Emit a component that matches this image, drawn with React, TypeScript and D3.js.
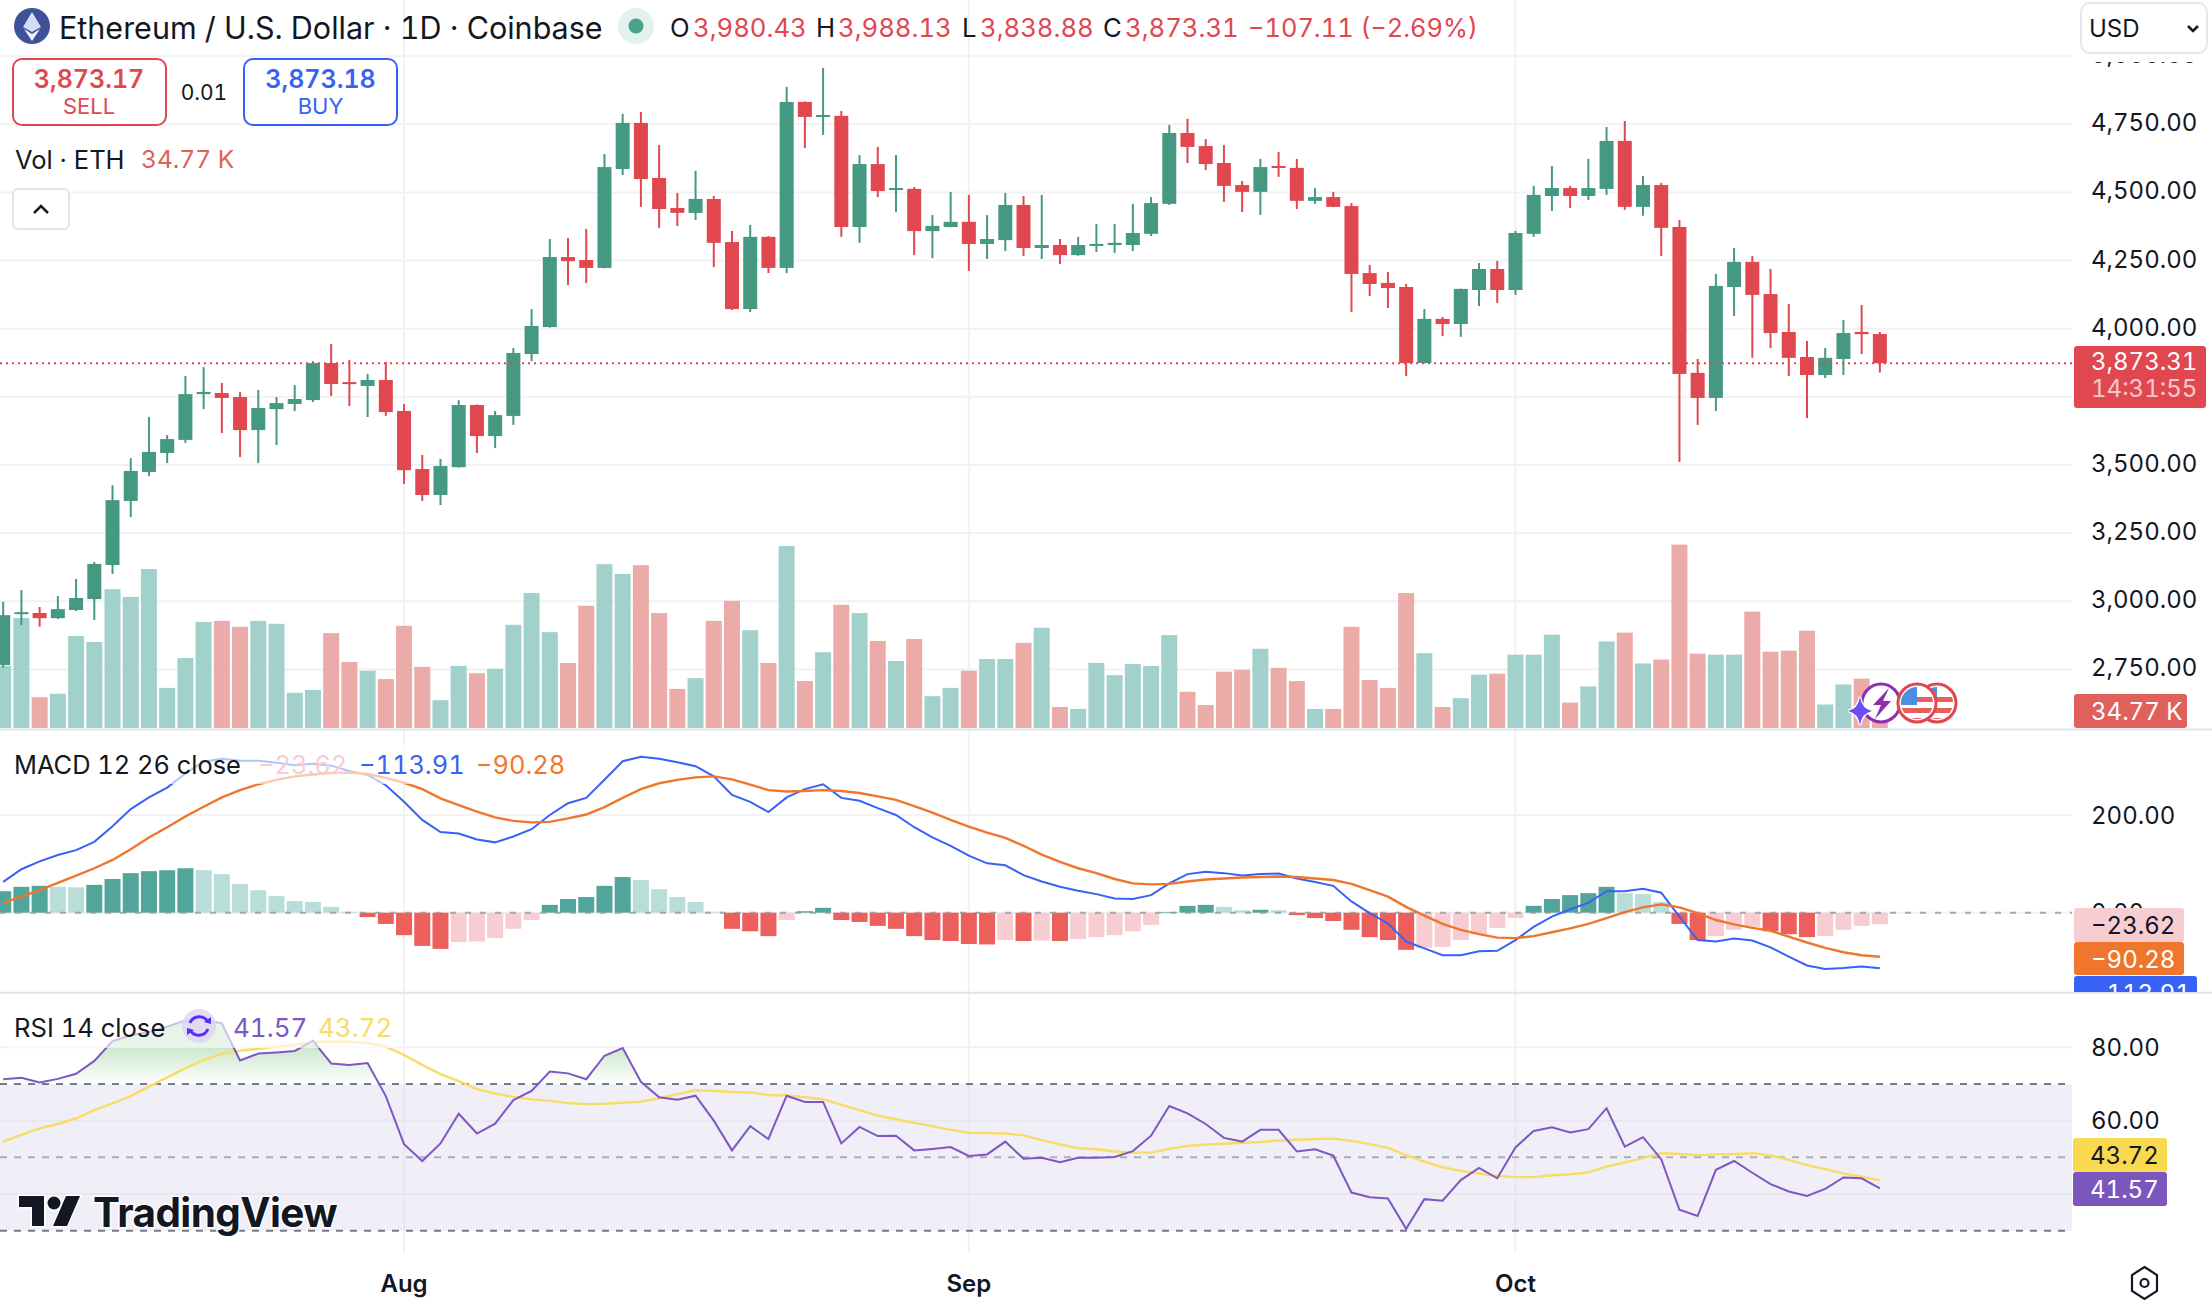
import React from "react";
import * as d3 from "d3";

const WIDTH = 2212;
const HEIGHT = 1304;
const PLOT_RIGHT = 2072;

const opens = [2766,2954,2957,2938,2968,3008,3133,3368,3474,3544,3592,3760,3764,3749,3628,3705,3724,3738,3874,3804,3790,3812,3698,3485,3390,3492,3720,3606,3680,3907,4006,4263,4252,4223,4586,4755,4553,4443,4425,4476,4318,4072,4337,4223,4832,4777,4781,4373,4604,4509,4513,4358,4373,4392,4311,4325,4454,4296,4307,4270,4304,4307,4307,4348,4458,4718,4670,4608,4527,4502,4597,4590,4469,4483,4450,4204,4168,4153,3874,4036,4017,4142,4219,4142,4348,4487,4516,4487,4513,4689,4447,4527,4373,3838,3746,4153,4245,4127,3988,3896,3830,3889,3988,3980.43];
const highs = [2998,3041,2979,3019,3082,3144,3426,3525,3676,3610,3826,3859,3801,3768,3775,3749,3793,3881,3944,3885,3834,3878,3724,3537,3522,3738,3722,3698,3929,4072,4329,4333,4366,4641,4788,4795,4674,4498,4579,4487,4358,4381,4340,4887,4834,4957,4799,4637,4667,4637,4520,4417,4502,4491,4417,4498,4487,4491,4329,4337,4384,4384,4458,4483,4748,4770,4696,4674,4542,4623,4648,4623,4516,4502,4461,4234,4208,4164,4072,4043,4147,4241,4249,4359,4524,4597,4524,4623,4740,4762,4560,4535,4399,3889,4201,4296,4267,4219,4091,3955,3929,4032,4087,3988.13];
const lows = [2757,2913,2907,2935,2964,2931,3100,3309,3459,3507,3581,3705,3617,3529,3507,3573,3698,3731,3753,3716,3676,3680,3430,3368,3353,3490,3544,3562,3647,3881,4004,4160,4168,4221,4564,4447,4370,4377,4399,4226,4069,4061,4204,4204,4663,4711,4337,4315,4483,4428,4270,4259,4372,4212,4256,4285,4267,4256,4237,4268,4281,4278,4285,4340,4454,4608,4582,4465,4428,4417,4557,4439,4458,4446,4061,4120,4076,3826,3872,3973,3970,4083,4094,4124,4337,4432,4443,4472,4491,4436,4414,4267,3511,3647,3698,4047,3893,3929,3827,3672,3819,3830,3907,3838.88];
const closes = [2949,2960,2938,2971,3012,3137,3371,3478,3548,3595,3760,3768,3746,3628,3709,3727,3742,3874,3797,3797,3812,3694,3481,3390,3496,3720,3606,3683,3911,4010,4263,4248,4223,4593,4755,4549,4439,4425,4476,4315,4072,4337,4223,4832,4777,4784,4373,4604,4505,4516,4358,4377,4392,4311,4329,4454,4296,4307,4270,4307,4311,4315,4351,4461,4718,4667,4604,4524,4502,4593,4590,4469,4483,4447,4201,4164,4149,3874,4036,4017,4146,4219,4142,4351,4491,4516,4487,4516,4689,4447,4527,4370,3834,3746,4157,4245,4124,3984,3893,3830,3893,3984,3980,3873.31];
const volumes = [127,225,63,70,188,176,284,268,325,82,143,217,219,207,219,213,72,78,194,135,117,100,209,125,57,127,112,121,211,276,196,133,250,335,315,333,235,80,102,219,260,200,133,372,96,155,252,235,178,137,182,65,82,117,141,141,174,205,43,39,133,108,131,127,190,74,47,115,119,162,123,96,39,39,207,98,82,276,153,43,61,109,111,150,150,191,52,85,177,195,132,140,375,152,150,150,238,156,158,199,48,89,101,34.77];

const macdLine = [63,89,105,118,128,145,177,212,236,256,285,309,315,311,311,307,302,305,301,290,282,261,227,190,165,162,150,144,156,171,200,224,235,272,310,319,315,308,300,279,241,227,206,236,253,263,235,229,214,200,175,154,137,117,101,97,77,64,53,45,38,29,28,36,60,79,84,81,76,79,80,70,63,55,23,-1,-22,-59,-73,-87,-87,-79,-78,-56,-29,-8,7,20,44,44,49,41,-8,-56,-59,-53,-57,-71,-90,-108,-115,-113,-110,-113.91];
const signalLine = [20,33,46,61,76,91,108,130,154,175,197,217,236,251,263,272,279,283,286,287,284,276,266,253,234,220,207,195,188,185,186,193,201,216,235,253,265,272,277,279,273,262,251,248,249,251,249,245,238,231,218,205,190,176,164,153,137,119,104,91,81,69,60,58,59,64,68,70,72,73,74,73,70,67,59,46,33,12,-6,-23,-35,-44,-51,-52,-48,-40,-32,-23,-11,1,11,17,11,-1,-15,-24,-31,-37,-49,-61,-72,-81,-87,-90.28];
const histogram = [44,53,55,53,52,57,69,81,85,87,91,87,79,59,46,34,24,22,12,2,-9,-23,-46,-68,-74,-60,-59,-52,-33,-15,16,28,32,55,73,67,48,32,22,2,-33,-38,-48,-15,3,10,-15,-19,-27,-33,-48,-56,-58,-64,-65,-56,-58,-57,-58,-54,-50,-46,-38,-25,1.5,14,16,12,5,6,5,-5,-11,-17,-35,-50,-56,-76,-72,-70,-56,-44,-31,-11,14,28,36,40,53,40,38,22,-23,-56,-48,-35,-29,-38,-44,-50,-48,-35,-27,-23.62];

const rsiLine = [71.3,71.7,70.4,71.4,72.8,76.3,81.7,83.3,84.2,85.6,87.4,87.6,86.5,76.4,78.3,78.6,79.0,81.8,75.6,75.2,75.7,66.7,53.6,49.0,53.8,61.9,56.5,59.2,65.6,68.1,73.4,72.9,71.3,77.7,79.8,70.6,66.4,65.7,66.8,60.0,51.9,58.5,55.0,66.8,65.1,65.1,53.8,58.3,55.8,55.9,51.9,52.3,52.8,50.4,50.8,54.3,49.6,49.9,48.7,49.9,49.9,50.1,51.7,55.9,64.0,62.0,59.1,55.3,54.3,57.5,57.5,51.6,52.2,50.5,40.4,39.1,38.8,30.5,38.6,38.2,43.8,47.1,44.3,52.7,57.2,58.2,56.8,57.7,63.4,52.9,55.5,49.5,35.7,34.0,46.6,49.0,45.8,42.7,40.7,39.5,41.4,44.5,44.3,41.57];
const rsiAverage = [54.3,56.1,57.9,59.1,60.6,62.9,64.7,66.7,69.3,71.8,74.3,76.5,78.3,79.1,79.6,80.2,80.8,81.3,81.6,81.5,81.2,80.2,77.9,75.2,72.7,70.8,68.6,67.4,66.5,65.8,65.4,64.8,64.5,64.6,64.9,65.2,66.1,67.2,68.3,68.1,67.8,67.7,67.0,66.9,66.4,65.8,64.4,62.9,61.4,60.4,59.4,58.5,57.5,56.7,56.6,56.5,56.0,54.7,53.5,52.5,52.2,51.6,51.3,51.3,52.3,53.1,53.5,53.7,54.0,54.2,54.6,54.8,55.0,55.1,54.5,53.6,52.6,50.6,48.8,47.3,46.3,45.6,44.9,44.6,44.6,45.1,45.4,45.9,47.5,48.6,49.8,51.1,50.9,50.6,50.8,50.9,51.1,50.5,49.3,47.9,46.8,45.6,44.7,43.72];

const priceTicks = [5000,4750,4500,4250,4000,3750,3500,3250,3000,2750];
const priceLabels = [5000,4750,4500,4250,4000,3500,3250,3000,2750];
const macdTicks = [200,0];
const rsiGrid = [80,60,40];
const rsiLabels = [80,60];
const rsiDashed = [70,50,30];
const monthTicks = [{ index: 22, label: "Aug" }, { index: 53, label: "Sep" }, { index: 83, label: "Oct" }];

const GREEN = "#459881";
const RED = "#E0474F";
const FONT = "Inter, sans-serif";

const x = d3.scaleLinear().domain([0, 103]).range([3.2, 3.2 + 103 * 18.22]);
const yPrice = d3.scaleLinear().domain([4000, 2750]).range([328.7, 669.4]);
const yVol = d3.scaleLinear().domain([0, 375]).range([728, 544.6]);
const yMacd = d3.scaleLinear().domain([0, 200]).range([912.7, 815]);
const yRsi = d3.scaleLinear().domain([70, 30]).range([1084, 1230.7]);

const fmt = d3.format(",.2f");

const pathOf = (vals: number[], y: d3.ScaleLinear<number, number>) =>
  d3.line<number>().x((_, i) => x(i)).y((d) => y(d))(vals) as string;

const rsiArea = d3
  .area<number>()
  .x((_, i) => x(i))
  .y0(yRsi(70))
  .y1((d) => yRsi(d))(rsiLine) as string;

function histColor(i: number) {
  const h = histogram[i];
  const rising = i === 0 || h > histogram[i - 1];
  if (h >= 0) return rising ? "#52A59B" : "#B9DDD9";
  return rising ? "#F7CDD2" : "#ED5F5A";
}

const Label = (p: {
  x: number;
  y: number;
  size?: number;
  fill?: string;
  weight?: number;
  anchor?: string;
  opacity?: number;
  children: React.ReactNode;
}) => (
  <text
    x={p.x}
    y={p.y}
    fontFamily={FONT}
    fontSize={p.size ?? 24}
    fill={p.fill ?? "#131722"}
    fontWeight={p.weight ?? 400}
    textAnchor={p.anchor ?? "start"}
    dominantBaseline="central"
    opacity={p.opacity}
    style={{ fontVariantNumeric: "tabular-nums" }}
  >
    {p.children}
  </text>
);

export default function App() {
  return (
    <svg
      width={WIDTH}
      height={HEIGHT}
      viewBox={`0 0 ${WIDTH} ${HEIGHT}`}
      style={{ position: "absolute", left: 0, top: 0, display: "block", background: "#fff" }}
    >
      <defs>
        <linearGradient id="rsiGlow" gradientUnits="userSpaceOnUse" x1="0" x2="0" y1={1040} y2={1084}>
          <stop offset="0" stopColor="#4CAF50" stopOpacity={0.35} />
          <stop offset="1" stopColor="#4CAF50" stopOpacity={0} />
        </linearGradient>
        <clipPath id="aboveBand">
          <rect x={0} y={994} width={PLOT_RIGHT} height={yRsi(70) - 994} />
        </clipPath>
        <clipPath id="macdPane">
          <rect x={0} y={731} width={WIDTH} height={261} />
        </clipPath>
        <clipPath id="flagA">
          <circle cx={1917} cy={703} r={16} />
        </clipPath>
        <clipPath id="flagB">
          <circle cx={1937} cy={703} r={16} />
        </clipPath>
      </defs>

      {/* grid */}
      {priceTicks.map((t) => (
        <line key={t} x1={0} x2={PLOT_RIGHT} y1={yPrice(t)} y2={yPrice(t)} stroke="#F2F2F4" strokeWidth={2} />
      ))}
      {monthTicks.map((m) => (
        <line key={m.label} x1={x(m.index)} x2={x(m.index)} y1={0} y2={1253} stroke="#F2F2F4" strokeWidth={2} />
      ))}

      {/* volume */}
      {volumes.map((v, i) => (
        <rect
          key={i}
          x={x(i) - 8}
          y={yVol(v)}
          width={16}
          height={yVol(0) - yVol(v)}
          fill={closes[i] < opens[i] ? "#E9A3A0" : "#98CCC6"}
          opacity={0.9}
        />
      ))}

      {/* candles */}
      {opens.map((o, i) => {
        const c = closes[i];
        const col = c < o ? RED : GREEN;
        const top = yPrice(Math.max(o, c));
        const bot = yPrice(Math.min(o, c));
        return (
          <g key={i}>
            <line x1={x(i)} x2={x(i)} y1={yPrice(highs[i])} y2={yPrice(lows[i])} stroke={col} strokeWidth={2} />
            <rect x={x(i) - 7} y={top} width={14} height={Math.max(bot - top, 2)} fill={col} />
          </g>
        );
      })}

      <line
        x1={0}
        x2={PLOT_RIGHT}
        y1={yPrice(3873.31)}
        y2={yPrice(3873.31)}
        stroke={RED}
        strokeWidth={2}
        strokeDasharray="2 4"
      />

      {/* pane separators */}
      <line x1={0} x2={WIDTH} y1={729.5} y2={729.5} stroke="#E0E3EB" strokeWidth={2} />
      <line x1={0} x2={WIDTH} y1={992.7} y2={992.7} stroke="#E0E3EB" strokeWidth={2} />

      {/* macd pane */}
      {macdTicks.map((t) => (
        <line key={t} x1={0} x2={PLOT_RIGHT} y1={yMacd(t)} y2={yMacd(t)} stroke="#F2F2F4" strokeWidth={2} />
      ))}
      {histogram.map((h, i) => (
        <rect
          key={i}
          x={x(i) - 8}
          y={Math.min(yMacd(h), yMacd(0))}
          width={16}
          height={Math.abs(yMacd(h) - yMacd(0))}
          fill={histColor(i)}
        />
      ))}
      <line x1={0} x2={PLOT_RIGHT} y1={yMacd(0)} y2={yMacd(0)} stroke="#9598A1" strokeWidth={2} strokeDasharray="6 9" opacity={0.8} />
      <g clipPath="url(#macdPane)">
        <path d={pathOf(macdLine, yMacd)} fill="none" stroke="#3861F6" strokeWidth={2} />
        <path d={pathOf(signalLine, yMacd)} fill="none" stroke="#F0752D" strokeWidth={2.4} />
      </g>
      <rect x={8} y={744} width={412} height={40} fill="#fff" opacity={0.62} />

      {/* rsi pane */}
      <rect x={0} y={yRsi(70)} width={PLOT_RIGHT} height={yRsi(30) - yRsi(70)} fill="#F0EEF7" />
      {rsiGrid.map((t) => (
        <line key={t} x1={0} x2={PLOT_RIGHT} y1={yRsi(t)} y2={yRsi(t)} stroke={t === 80 ? "#F2F2F4" : "#E8E6EF"} strokeWidth={2} />
      ))}
      {monthTicks.map((m) => (
        <line key={m.label} x1={x(m.index)} x2={x(m.index)} y1={yRsi(70)} y2={yRsi(30)} stroke="#E8E6EF" strokeWidth={2} />
      ))}
      <path d={rsiArea} fill="url(#rsiGlow)" clipPath="url(#aboveBand)" />
      {rsiDashed.map((t) => (
        <line
          key={t}
          x1={0}
          x2={PLOT_RIGHT}
          y1={yRsi(t)}
          y2={yRsi(t)}
          stroke="#787B86"
          strokeWidth={2}
          strokeDasharray="7 7"
          opacity={t === 50 ? 0.55 : 1}
        />
      ))}
      <path d={pathOf(rsiAverage, yRsi)} fill="none" stroke="#F8DC66" strokeWidth={2.4} />
      <path d={pathOf(rsiLine, yRsi)} fill="none" stroke="#7E57C2" strokeWidth={2} />
      <rect x={8} y={1006} width={388} height={42} fill="#fff" opacity={0.62} />

      {/* header */}
      <circle cx={32} cy={26} r={18} fill="#3F5199" />
      <path d="M32 12 L41 27 L32 32 L23 27 Z" fill="#D5DCF5" />
      <path d="M32 34 L40 29 L32 41 L24 29 Z" fill="#EEF1FB" />
      <Label x={59} y={27} size={30.5}>Ethereum / U.S. Dollar · 1D · Coinbase</Label>
      <circle cx={636} cy={26} r={18} fill="#E3F2EE" />
      <circle cx={636} cy={26} r={7.5} fill="#4AA28C" />
      <Label x={670} y={27} size={25.7}>O</Label>
      <Label x={693} y={27} size={25.7} fill={RED}>3,980.43</Label>
      <Label x={816} y={27} size={25.7}>H</Label>
      <Label x={838} y={27} size={25.7} fill={RED}>3,988.13</Label>
      <Label x={962} y={27} size={25.7}>L</Label>
      <Label x={980} y={27} size={25.7} fill={RED}>3,838.88</Label>
      <Label x={1103} y={27} size={25.7}>C</Label>
      <Label x={1125} y={27} size={25.7} fill={RED}>3,873.31</Label>
      <Label x={1248} y={27} size={25.4} fill={RED}>−107.11 (−2.69%)</Label>

      {/* trade buttons */}
      <rect x={13} y={59} width={153} height={66} rx={9} fill="#fff" stroke={RED} strokeWidth={2} />
      <Label x={89} y={79} size={25} weight={600} fill={RED} anchor="middle">3,873.17</Label>
      <Label x={89} y={106} size={22} fill={RED} anchor="middle">SELL</Label>
      <Label x={204} y={92} size={21} anchor="middle">0.01</Label>
      <rect x={244} y={59} width={153} height={66} rx={9} fill="#fff" stroke="#3861F6" strokeWidth={2} />
      <Label x={320.5} y={79} size={25} weight={600} fill="#3861F6" anchor="middle">3,873.18</Label>
      <Label x={320.5} y={106} size={22} fill="#3861F6" anchor="middle">BUY</Label>

      <Label x={15} y={159} size={25.5}>Vol · ETH</Label>
      <Label x={141} y={159} size={24.5} fill="#E0605C">34.77 K</Label>
      <rect x={13} y={189} width={56} height={40} rx={5} fill="#fff" stroke="#E0E3EB" strokeWidth={2} />
      <path d="M34 213 L41 206 L48 213" fill="none" stroke="#131722" strokeWidth={2.5} />

      {/* price axis */}
      {priceLabels.map((t) => (
        <Label key={t} x={2091} y={yPrice(t) - 1.5}>{fmt(t)}</Label>
      ))}
      <rect x={2081} y={3} width={126} height={50} rx={9} fill="#fff" stroke="#E8E8EB" strokeWidth={2} />
      <rect x={2075} y={54} width={137} height={8} fill="#fff" />
      <Label x={2089} y={28} size={24}>USD</Label>
      <path d="M2188 26 L2193 31 L2198 26" fill="none" stroke="#131722" strokeWidth={2.5} />

      <rect x={2074} y={346} width={132} height={62} rx={3} fill={RED} />
      <Label x={2091} y={361} fill="#fff">3,873.31</Label>
      <Label x={2091} y={388} fill="#fff" opacity={0.7}>14:31:55</Label>
      <rect x={2074} y={694} width={113} height={34} rx={3} fill="#E0605C" />
      <Label x={2091} y={711} fill="#fff">34.77 K</Label>

      {/* macd axis and legend */}
      <Label x={2091} y={yMacd(200)}>{fmt(200)}</Label>
      <Label x={2091} y={yMacd(0)}>{fmt(0)}</Label>
      <g clipPath="url(#macdPane)">
        <rect x={2074} y={976} width={123} height={34} rx={3} fill="#3861F6" />
        <Label x={2091} y={993} fill="#fff">−113.91</Label>
      </g>
      <rect x={2074} y={942} width={110} height={33} rx={3} fill="#F0752D" />
      <Label x={2091} y={959} fill="#fff">−90.28</Label>
      <rect x={2074} y={908} width={110} height={34} rx={3} fill="#F7CDD2" />
      <Label x={2091} y={925}>−23.62</Label>

      <Label x={14} y={764} size={25.4}>MACD 12 26 close</Label>
      <Label x={258} y={764} size={25.4} fill="#F7CDD2">−23.62</Label>
      <Label x={359} y={764} size={25.4} fill="#3861F6">−113.91</Label>
      <Label x={476} y={764} size={25.4} fill="#F0752D">−90.28</Label>

      {/* rsi axis and legend */}
      {rsiLabels.map((t) => (
        <Label key={t} x={2091} y={t === 80 ? 1047 : yRsi(t)}>{fmt(t)}</Label>
      ))}
      <rect x={2073} y={1138} width={94} height={34} rx={3} fill="#F8D950" />
      <Label x={2090} y={1155}>43.72</Label>
      <rect x={2073} y={1172} width={94} height={34} rx={3} fill="#7A56BD" />
      <Label x={2090} y={1189} fill="#fff">41.57</Label>

      <Label x={14} y={1027} size={25.6}>RSI 14 close</Label>
      <circle cx={199} cy={1026} r={17} fill="#DDD6F5" opacity={0.85} />
      <path d="M190 1023 A10 10 0 0 1 208 1022" fill="none" stroke="#5B2DF5" strokeWidth={3} />
      <path d="M208 1029 A10 10 0 0 1 190 1030" fill="none" stroke="#5B2DF5" strokeWidth={3} />
      <path d="M204 1022 L211 1024 L211 1017 Z" fill="#5B2DF5" />
      <path d="M194 1030 L187 1028 L187 1035 Z" fill="#5B2DF5" />
      <Label x={233} y={1027} size={26} fill="#7E57C2">41.57</Label>
      <Label x={318} y={1027} size={26} fill="#F8DC66">43.72</Label>

      {/* tradingview mark */}
      <g fill="#131722" stroke="#fff" strokeWidth={3} paintOrder="stroke">
        <path d="M44 1226 H32 V1207 H19 V1196 H44 Z" />
        <circle cx={54} cy={1203} r={6.5} />
        <path d="M67 1226 H53 L66 1196 H80 Z" />
      </g>
      <text
        x={93}
        y={1212}
        fontFamily={FONT}
        fontSize={40.5}
        fontWeight={700}
        letterSpacing={-0.6}
        fill="#131722"
        stroke="#fff"
        strokeWidth={3}
        paintOrder="stroke"
        dominantBaseline="central"
      >
        TradingView
      </text>

      {/* time axis */}
      {monthTicks.map((m) => (
        <Label key={m.label} x={x(m.index)} y={1283} weight={600} anchor="middle">{m.label}</Label>
      ))}
      <path d="M2144.5 1267 L2157 1275 V1291 L2144.5 1299 L2132 1291 V1275 Z" fill="none" stroke="#131722" strokeWidth={2.2} />
      <circle cx={2144.5} cy={1283} r={4} fill="none" stroke="#131722" strokeWidth={2.2} />

      {/* chart event badges */}
      <g>
        <circle cx={1881} cy={703} r={19} fill="#fff" stroke="#8E2DB0" strokeWidth={3} />
        <path d="M1889 688 L1873 705 H1881 L1875 719 L1891 701 H1883 Z" fill="#8E2DB0" />
        <path d="M1860 697 Q1862 709 1872 711 Q1862 713 1860 725 Q1858 713 1848 711 Q1858 709 1860 697 Z" fill="#6E4DF5" stroke="#fff" strokeWidth={2.5} paintOrder="stroke" />
        {[{ cx: 1937, id: "flagB" }, { cx: 1917, id: "flagA" }].map((f) => (
          <g key={f.id}>
            <circle cx={f.cx} cy={703} r={19} fill="#fff" stroke="#E0474F" strokeWidth={3} />
            <g clipPath={`url(#${f.id})`}>
              <rect x={f.cx - 16} y={708} width={32} height={5} fill="#E7605C" />
              <rect x={f.cx - 16} y={718} width={32} height={6} fill="#E7605C" />
              <rect x={f.cx - 16} y={697} width={32} height={5} fill="#E7605C" />
              <rect x={f.cx - 16} y={687} width={16} height={18} fill="#4A8FE0" />
            </g>
          </g>
        ))}
      </g>
    </svg>
  );
}
